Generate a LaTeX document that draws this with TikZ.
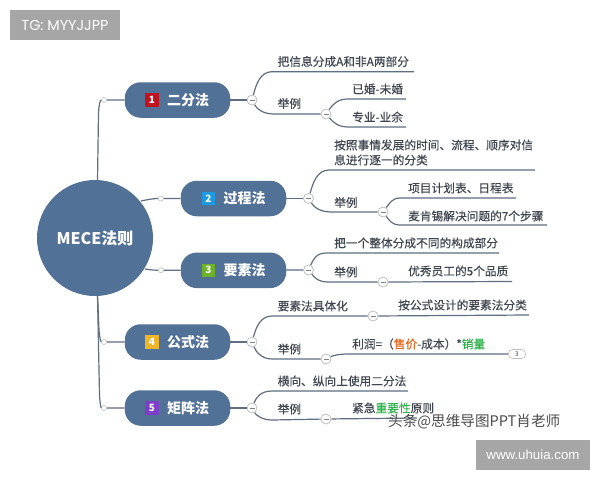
\documentclass[tikz,border=0pt]{standalone}
\usepackage{fontspec}
\setmainfont{Noto Sans CJK SC}
\newfontfamily\labfont[FakeBold=0.25]{Noto Sans CJK SC}
\newfontfamily\tgfont{Poppins}
\newfontfamily\urlfont{Liberation Sans}
\definecolor{blueF}{HTML}{527196}
\definecolor{lineC}{HTML}{5F6E80}
\definecolor{txtC}{HTML}{3F4650}
\definecolor{grayB}{HTML}{A6A6A6}
\definecolor{orangeT}{HTML}{E4661B}
\definecolor{greenT}{HTML}{2FB34A}
\definecolor{iconA}{HTML}{BE1420}
\definecolor{iconB}{HTML}{1E9BE0}
\definecolor{iconC}{HTML}{6DB32A}
\definecolor{iconD}{HTML}{EFB52B}
\definecolor{iconE}{HTML}{7E3FC8}
\tikzset{
  x=1pt,y=-1pt,
  conn/.style={draw=lineC,line width=1.2pt},
  branch/.style={fill=blueF,rounded corners=16pt,minimum width=105.5pt,minimum height=35.5pt,inner sep=0pt},
  btext/.style={text=white,font=\fontsize{14}{14}\selectfont\bfseries,inner sep=0pt,anchor=west},
  icon/.style={minimum size=13.5pt,inner sep=0pt,text=white,font=\fontsize{10}{10}\selectfont\bfseries},
  dotn/.style={circle,draw=lightgray,fill=white,line width=.6pt,minimum size=5pt,inner sep=0pt},
  minusn/.style={circle,draw=lightgray,fill=white,line width=.8pt,minimum size=10pt,inner sep=0pt,
    path picture={\draw[gray,line width=.7pt] ([xshift=-2.5pt]path picture bounding box.center) -- ([xshift=2.5pt]path picture bounding box.center);}},
  lab/.style={anchor=west,inner sep=0pt,text=txtC,font=\labfont\fontsize{11.7}{15}\selectfont},
  badge/.style={fill=grayB,minimum height=30pt,inner sep=0pt,text=white},
}
\begin{document}
\begin{tikzpicture}
\useasboundingbox (0,0) rectangle (600,480);
\fill[white] (0,0) rectangle (600,480);
% corner badges
\node[badge,minimum width=110pt,font=\tgfont\fontsize{14.4}{14.4}\selectfont] (tg) at (65,25) {TG: MYYJJPP};
\node[badge,minimum width=114pt,font=\urlfont\fontsize{13.3}{13.3}\selectfont] (url) at (533,455) {www.uhuia.com};
% centre and branches
\node[circle,fill=blueF,minimum size=116pt,inner sep=0pt,text=white,font=\fontsize{16}{16}\selectfont\bfseries] (root) at (95,238) {MECE法则};
\node[branch] (b1) at (177.5,100) {};
\node[branch] (b2) at (233.5,198.5) {};
\node[branch] (b3) at (233.5,270.3) {};
\node[branch] (b4) at (177.5,342) {};
\node[branch] (b5) at (177.5,408) {};
\node[icon,fill=iconA] (i1) at (152,100) {1};
\node[icon,fill=iconB] (i2) at (208.5,198.5) {2};
\node[icon,fill=iconC] (i3) at (208.5,270.3) {3};
\node[icon,fill=iconD] (i4) at (152,342) {4};
\node[icon,fill=iconE] (i5) at (152,408) {5};
\node[btext] (t1) at (167,100) {二分法};
\node[btext] (t2) at (223.5,198.5) {过程法};
\node[btext] (t3) at (223.5,270.3) {要素法};
\node[btext] (t4) at (167,342) {公式法};
\node[btext] (t5) at (167,408) {矩阵法};
% fold markers
\node[dotn] (d1) at (104,100) {};
\node[dotn] (d2) at (161,198.5) {};
\node[dotn] (d3) at (161,270.3) {};
\node[dotn] (d4) at (104,342) {};
\node[dotn] (d5) at (104,408) {};
\node[minusn] (m1) at (252,100) {};
\node[minusn] (m2) at (308.5,198.5) {};
\node[minusn] (m3) at (308.5,270) {};
\node[minusn] (m4) at (252,342) {};
\node[minusn] (m5) at (252,408) {};
\node[minusn] (m11) at (326,114) {};
\node[minusn] (m21) at (383,212) {};
\node[minusn] (m31) at (383,282) {};
\node[minusn] (m41) at (373,316) {};
\node[minusn] (m42) at (326,359) {};
\node[minusn] (m51) at (326,419) {};
\node[draw=lightgray,fill=white,rounded corners=4pt,line width=.6pt,minimum width=17pt,minimum height=9pt,inner sep=0pt,text=txtC,font=\fontsize{6.5}{6.5}\selectfont] (p3) at (517,354) {3};
% free ends
\coordinate (e1) at (414,71.7); \coordinate (e11) at (406,99); \coordinate (e12) at (406,127);
\coordinate (e2) at (535,170); \coordinate (e21) at (516,198); \coordinate (e22) at (547,225);
\coordinate (e3) at (499,253); \coordinate (e31) at (512,281.5);
\coordinate (e41) at (529,315);
\coordinate (e5) at (408,391); \coordinate (e51) at (417,418);
\coordinate (rt) at (97.5,181);
\coordinate (r2) at (141,201);
\coordinate (r3) at (145,269);
\coordinate (rb) at (97.5,295);
% trunk connectors
\draw[conn] (rt) -- (98.5,113) .. controls (99,105) and (100,100) .. (d1) -- (b1);
\draw[conn] (r2) .. controls (150,199) and (155,198.5) .. (d2) -- (b2);
\draw[conn] (r3) .. controls (152,270) and (155,270.3) .. (d3) -- (b3);
\draw[conn] (rb) -- (99,330) .. controls (99.5,338) and (101,342) .. (d4) -- (b4);
\draw[conn] (rb) -- (99.5,395) .. controls (100,404) and (101,408) .. (d5) -- (b5);
% branch 1
\draw[conn] (b1) -- (m1);
\draw[conn] (m1) .. controls (256,85) and (260,71.7) .. (272,71.7) -- (e1);
\draw[conn] (m1) .. controls (257,109) and (263,114) .. (274,114) -- (m11);
\draw[conn] (m11) .. controls (333,104) and (338,99) .. (348,99) -- (e11);
\draw[conn] (m11) .. controls (333,122) and (338,127) .. (348,127) -- (e12);
% branch 2
\draw[conn] (b2) -- (m2);
\draw[conn] (m2) .. controls (313,183) and (317,170) .. (329,170) -- (e2);
\draw[conn] (m2) .. controls (314,207) and (320,212) .. (331,212) -- (m21);
\draw[conn] (m21) .. controls (389,204) and (392,198) .. (400,198) -- (e21);
\draw[conn] (m21) .. controls (389,220) and (392,225) .. (400,225) -- (e22);
% branch 3
\draw[conn] (b3) -- (m3);
\draw[conn] (m3) .. controls (313,260) and (316,253) .. (326,253) -- (e3);
\draw[conn] (m3) .. controls (314,277) and (318,282) .. (328,282) -- (m31);
\draw[conn] (m31) -- (e31);
% branch 4
\draw[conn] (b4) -- (m4);
\draw[conn] (m4) .. controls (256,328) and (260,316) .. (272,316) -- (m41);
\draw[conn] (m41) -- (e41);
\draw[conn] (m4) .. controls (256,352) and (262,359) .. (272,359) -- (m42);
\draw[conn] (m42) .. controls (332,356) and (338,354) .. (348,354) -- (p3);
% branch 5
\draw[conn] (b5) -- (m5);
\draw[conn] (m5) .. controls (256,398) and (260,391) .. (272,391) -- (e5);
\draw[conn] (m5) .. controls (256,415) and (262,420) .. (272,420) -- (m51);
\draw[conn] (m51) -- (e51);
% labels
\node[lab] (l1) at (277.5,61.5) {把信息分成A和非A两部分};
\node[lab] (l2) at (277.5,103.5) {举例};
\node[lab] (l3) at (352,89) {已婚-未婚};
\node[lab] (l4) at (352,117) {专业-业余};
\node[lab,align=left] (l5) at (334,152.5) {按照事情发展的时间、流程、顺序对信\\息进行逐一的分类};
\node[lab] (l6) at (334,202.5) {举例};
\node[lab] (l7) at (408,188) {项目计划表、日程表};
\node[lab] (l8) at (408,216) {麦肯锡解决问题的7个步骤};
\node[lab] (l9) at (334,243) {把一个整体分成不同的构成部分};
\node[lab] (l10) at (334,272) {举例};
\node[lab] (l11) at (408,271) {优秀员工的5个品质};
\node[lab] (l12) at (277.5,306) {要素法具体化};
\node[lab] (l13) at (398,305) {按公式设计的要素法分类};
\node[lab] (l14) at (277.5,349) {举例};
\node[lab] (l15) at (352,344) {利润=（\textcolor{orangeT}{售价}-成本）*\textcolor{greenT}{销量}};
\node[lab] (l16) at (277.5,381) {横向、纵向上使用二分法};
\node[lab] (l17) at (277.5,409) {举例};
\node[lab] (l18) at (352,408) {紧急\textcolor{greenT}{重要性}原则};
\node[anchor=west,inner sep=0pt,text=black!70,font=\fontsize{14.6}{14.6}\selectfont] (wm) at (388,421.5) {头条@思维导图PPT肖老师};
\end{tikzpicture}
\end{document}
